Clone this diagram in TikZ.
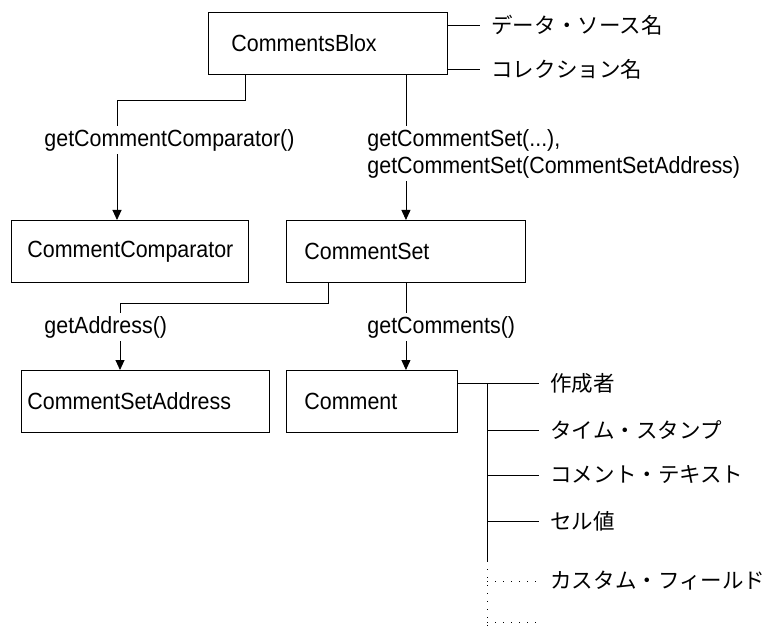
\documentclass[tikz,border=0pt]{standalone}
\usepackage{fontspec}
\setmainfont[FakeStretch=0.915]{Liberation Sans}
\newfontfamily\jp{Noto Sans CJK JP}
\usetikzlibrary{arrows.meta}

\begin{document}
\begin{tikzpicture}[x=1bp,y=-1bp,line width=0.9bp,
        every node/.style={font=\fontsize{23.5}{27}\selectfont},
        box/.style={draw, anchor=north west, minimum height=62bp, inner ysep=0pt, align=left},
        call/.style={anchor=west, fill=white, inner xsep=2bp, inner ysep=3bp, align=left},
        attr/.style={anchor=west, inner xsep=11bp, font=\fontsize{21.6}{27}\selectfont\jp},
        arrow/.style={-{Triangle[length=10bp,width=9bp]}},
        dots/.style={dash pattern=on 1.4bp off 6.6bp}]
        \useasboundingbox (0,0) rectangle (768,632);

        % classes
        \node[box, text width=193bp, inner xsep=23bp] (blox)       at (208,12)  {CommentsBlox};
        \node[box, text width=205bp, inner xsep=16bp] (comparator) at (11,220)  {CommentComparator};
        \node[box, text width=203bp, inner xsep=18bp] (set)        at (286,220) {CommentSet};
        \node[box, text width=236bp, inner xsep=6bp ] (address)    at (21,370)  {CommentSetAddress};
        \node[box, text width=135bp, inner xsep=18bp] (comment)    at (286,370) {Comment};

        % calls
        \draw[arrow] ([xshift=37bp]blox.south west) -- ++(0,26) -| ([xshift=106bp]comparator.north west);
        \draw[arrow] (set.north |- blox.south) -- (set.north);
        \draw[arrow] ([xshift=42bp]set.south west) -- ++(0,21) -| ([xshift=99bp]address.north west);
        \draw[arrow] (set.south) -- (set.south |- comment.north);

        \node[call] (getcmp)  at (42,140)    {getCommentComparator()};
        \node[call] (getset)  at (365,153.5) {getCommentSet(...),\\getCommentSet(CommentSetAddress)};
        \node[call] (getaddr) at (42,327)    {getAddress()};
        \node[call] (getcmts) at (365,327)   {getComments()};

        % CommentsBlox attributes
        \node[attr] (source) at (480,25) {データ・ソース名};
        \node[attr] (coll)   at (480,69) {コレクション名};
        \draw (blox.east |- source) -- (source.west);
        \draw (blox.east |- coll)   -- (coll.west);

        % Comment attributes
        \node[attr] (author) at (539,383) {作成者};
        \node[attr] (stamp)  at (539,430) {タイム・スタンプ};
        \node[attr] (text)   at (539,475) {コメント・テキスト};
        \node[attr] (cell)   at (539,521) {セル値};
        \node[attr] (custom) at (539,581) {カスタム・フィールド};
        \coordinate (trunk) at (487,383);
        \coordinate (split) at (487,561);
        \coordinate (end)   at (487,632);
        \coordinate (more)  at (540,622);

        \draw (comment.east |- author) -- (author.west);
        \draw (trunk) -- (split);
        \draw (trunk |- stamp) -- (stamp.west);
        \draw (trunk |- text)  -- (text.west);
        \draw (trunk |- cell)  -- (cell.west);
        \draw[dots] (split) -- (end);
        \draw[dots] (trunk |- custom) -- (custom.west);
        \draw[dots] (trunk |- more) -- (more);
      \end{tikzpicture}
\end{document}
